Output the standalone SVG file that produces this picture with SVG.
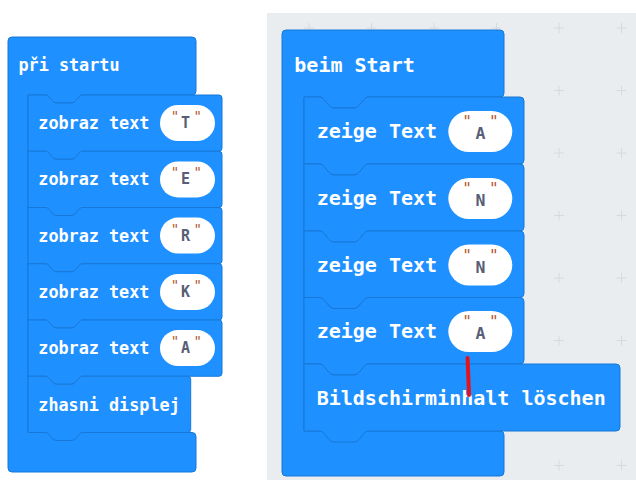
<svg xmlns="http://www.w3.org/2000/svg" width="636" height="480" viewBox="0 0 636 480">
  <style>
    .blk { fill: #1e90ff; stroke: #1778d8; stroke-width: 1; stroke-linejoin: round; }
    .lbl { fill: #ffffff; font-family: "DejaVu Sans Mono", "Liberation Mono", monospace; font-weight: bold; }
    .s { font-size: 16.8px; }
    .l { font-size: 20px; }
    .pill { fill: #ffffff; }
    .val { fill: #575e75; font-family: "DejaVu Sans Mono", "Liberation Mono", monospace; font-weight: bold; text-anchor: middle; }
    .q { fill: #b15a35; font-family: "DejaVu Sans Mono", "Liberation Mono", monospace; text-anchor: middle; }
    .grid { stroke: #d5dade; stroke-width: 1; }
  </style>

  <!-- page and workspace backgrounds -->
  <rect x="0" y="0" width="636" height="480" fill="#ffffff"/>
  <rect x="267" y="13" width="369" height="467" fill="#e9edf0"/>
  <g id="workspace-grid" class="grid">
    <path d="M304,28h10M309,23v10 M366.5,28h10M371.5,23v10 M429,28h10M434,23v10 M491.5,28h10M496.5,23v10 M554,28h10M559,23v10 M616.5,28h10M621.5,23v10"/>
    <path d="M554,90.5h10M559,85.5v10 M616.5,90.5h10M621.5,85.5v10"/>
    <path d="M554,153h10M559,148v10 M616.5,153h10M621.5,148v10"/>
    <path d="M554,215.5h10M559,210.5v10 M616.5,215.5h10M621.5,210.5v10"/>
    <path d="M554,278h10M559,273v10 M616.5,278h10M621.5,273v10"/>
    <path d="M554,340.5h10M559,335.5v10 M616.5,340.5h10M621.5,335.5v10"/>
    <path d="M554,465.5h10M559,460.5v10 M616.5,465.5h10M621.5,460.5v10"/>
  </g>

  <!-- ===== left program (Czech) ===== -->
  <g id="pri-startu">
    <path class="blk" d="M8,41 q0,-4 4,-4 H192 q4,0 4,4 V91 q0,4 -4,4 H82 q-1.5,0 -3,2 l-4,4.5 q-1.5,1.5 -4,1.5 h-14 q-2.5,0 -4,-1.5 l-4,-4.5 q-1.5,-2 -3,-2 H28 V432.5 H192 q4,0 4,4 V468 q0,4 -4,4 H12 q-4,0 -4,-4 Z"/>
    <text class="lbl s" x="18.5" y="71">při startu</text>
  </g>

  <g id="zobraz-T">
    <path class="blk" d="M28,95 H46 q1.5,0 3,2 l4,4.5 q1.5,1.5 4,1.5 h14 q2.5,0 4,-1.5 l4,-4.5 q1.5,-2 3,-2 H219 q3,0 3,3 V148.25 q0,3 -3,3 H82 q-1.5,0 -3,2 l-4,4.5 q-1.5,1.5 -4,1.5 h-14 q-2.5,0 -4,-1.5 l-4,-4.5 q-1.5,-2 -3,-2 H28 Z"/>
    <text class="lbl s" x="38.3" y="129">zobraz text</text>
    <rect class="pill" x="160" y="105" width="55" height="36" rx="18"/>
    <text class="q" x="175" y="121" font-size="14">"</text>
    <text class="val" x="185.5" y="128" font-size="15">T</text>
    <text class="q" x="197.7" y="121" font-size="14">"</text>
  </g>

  <g id="zobraz-E">
    <path class="blk" d="M28,151.25 H46 q1.5,0 3,2 l4,4.5 q1.5,1.5 4,1.5 h14 q2.5,0 4,-1.5 l4,-4.5 q1.5,-2 3,-2 H219 q3,0 3,3 V204.5 q0,3 -3,3 H82 q-1.5,0 -3,2 l-4,4.5 q-1.5,1.5 -4,1.5 h-14 q-2.5,0 -4,-1.5 l-4,-4.5 q-1.5,-2 -3,-2 H28 Z"/>
    <text class="lbl s" x="38.3" y="185.2">zobraz text</text>
    <rect class="pill" x="160" y="161.4" width="55" height="36" rx="18"/>
    <text class="q" x="175" y="177.4" font-size="14">"</text>
    <text class="val" x="185.5" y="184.4" font-size="15">E</text>
    <text class="q" x="197.7" y="177.4" font-size="14">"</text>
  </g>

  <g id="zobraz-R">
    <path class="blk" d="M28,207.5 H46 q1.5,0 3,2 l4,4.5 q1.5,1.5 4,1.5 h14 q2.5,0 4,-1.5 l4,-4.5 q1.5,-2 3,-2 H219 q3,0 3,3 V260.75 q0,3 -3,3 H82 q-1.5,0 -3,2 l-4,4.5 q-1.5,1.5 -4,1.5 h-14 q-2.5,0 -4,-1.5 l-4,-4.5 q-1.5,-2 -3,-2 H28 Z"/>
    <text class="lbl s" x="38.3" y="241.5">zobraz text</text>
    <rect class="pill" x="160" y="217.6" width="55" height="36" rx="18"/>
    <text class="q" x="175" y="233.6" font-size="14">"</text>
    <text class="val" x="185.5" y="240.6" font-size="15">R</text>
    <text class="q" x="197.7" y="233.6" font-size="14">"</text>
  </g>

  <g id="zobraz-K">
    <path class="blk" d="M28,263.75 H46 q1.5,0 3,2 l4,4.5 q1.5,1.5 4,1.5 h14 q2.5,0 4,-1.5 l4,-4.5 q1.5,-2 3,-2 H219 q3,0 3,3 V317 q0,3 -3,3 H82 q-1.5,0 -3,2 l-4,4.5 q-1.5,1.5 -4,1.5 h-14 q-2.5,0 -4,-1.5 l-4,-4.5 q-1.5,-2 -3,-2 H28 Z"/>
    <text class="lbl s" x="38.3" y="297.7">zobraz text</text>
    <rect class="pill" x="160" y="273.9" width="55" height="36" rx="18"/>
    <text class="q" x="175" y="289.9" font-size="14">"</text>
    <text class="val" x="185.5" y="296.9" font-size="15">K</text>
    <text class="q" x="197.7" y="289.9" font-size="14">"</text>
  </g>

  <g id="zobraz-A">
    <path class="blk" d="M28,320 H46 q1.5,0 3,2 l4,4.5 q1.5,1.5 4,1.5 h14 q2.5,0 4,-1.5 l4,-4.5 q1.5,-2 3,-2 H219 q3,0 3,3 V373.25 q0,3 -3,3 H82 q-1.5,0 -3,2 l-4,4.5 q-1.5,1.5 -4,1.5 h-14 q-2.5,0 -4,-1.5 l-4,-4.5 q-1.5,-2 -3,-2 H28 Z"/>
    <text class="lbl s" x="38.3" y="354">zobraz text</text>
    <rect class="pill" x="160" y="330.1" width="55" height="36" rx="18"/>
    <text class="q" x="175" y="346.1" font-size="14">"</text>
    <text class="val" x="185.5" y="353.1" font-size="15">A</text>
    <text class="q" x="197.7" y="346.1" font-size="14">"</text>
  </g>

  <g id="zhasni-displej">
    <path class="blk" d="M28,376.25 H46 q1.5,0 3,2 l4,4.5 q1.5,1.5 4,1.5 h14 q2.5,0 4,-1.5 l4,-4.5 q1.5,-2 3,-2 H187.7 q3,0 3,3 V429.5 q0,3 -3,3 H82 q-1.5,0 -3,2 l-4,4.5 q-1.5,1.5 -4,1.5 h-14 q-2.5,0 -4,-1.5 l-4,-4.5 q-1.5,-2 -3,-2 H28 Z"/>
    <text class="lbl s" x="38.3" y="410.5">zhasni displej</text>
  </g>

  <!-- ===== right program (German) ===== -->
  <g id="beim-start">
    <path class="blk" d="M282,34 q0,-4 4,-4 H500 q4,0 4,4 V93 q0,4 -4,4 H368 q-2,0 -4,2.5 l-5,6 q-2,2.5 -5,2.5 h-20 q-3,0 -5,-2.5 l-5,-6 q-2,-2.5 -4,-2.5 H304 V431 H500 q4,0 4,4 V472 q0,4 -4,4 H286 q-4,0 -4,-4 Z"/>
    <text class="lbl l" x="294.3" y="72">beim Start</text>
  </g>

  <g id="zeige-A1">
    <path class="blk" d="M304,97 H320 q2,0 4,2.5 l5,6 q2,2.5 5,2.5 h20 q3,0 5,-2.5 l5,-6 q2,-2.5 4,-2.5 H520 q4,0 4,4 V160 q0,4 -4,4 H368 q-2,0 -4,2.5 l-5,6 q-2,2.5 -5,2.5 h-20 q-3,0 -5,-2.5 l-5,-6 q-2,-2.5 -4,-2.5 H304 Z"/>
    <text class="lbl l" x="316.7" y="138">zeige Text</text>
    <rect class="pill" x="448.3" y="111" width="64" height="41" rx="20.5"/>
    <text class="q" x="467" y="127" font-size="16">"</text>
    <text class="val" x="480.5" y="139.3" font-size="16.5">A</text>
    <text class="q" x="493.7" y="127" font-size="16">"</text>
  </g>

  <g id="zeige-N1">
    <path class="blk" d="M304,164 H320 q2,0 4,2.5 l5,6 q2,2.5 5,2.5 h20 q3,0 5,-2.5 l5,-6 q2,-2.5 4,-2.5 H520 q4,0 4,4 V227 q0,4 -4,4 H368 q-2,0 -4,2.5 l-5,6 q-2,2.5 -5,2.5 h-20 q-3,0 -5,-2.5 l-5,-6 q-2,-2.5 -4,-2.5 H304 Z"/>
    <text class="lbl l" x="316.7" y="205">zeige Text</text>
    <rect class="pill" x="448.3" y="178" width="64" height="41" rx="20.5"/>
    <text class="q" x="467" y="194" font-size="16">"</text>
    <text class="val" x="480.5" y="206.3" font-size="16.5">N</text>
    <text class="q" x="493.7" y="194" font-size="16">"</text>
  </g>

  <g id="zeige-N2">
    <path class="blk" d="M304,231 H320 q2,0 4,2.5 l5,6 q2,2.5 5,2.5 h20 q3,0 5,-2.5 l5,-6 q2,-2.5 4,-2.5 H520 q4,0 4,4 V293.5 q0,4 -4,4 H368 q-2,0 -4,2.5 l-5,6 q-2,2.5 -5,2.5 h-20 q-3,0 -5,-2.5 l-5,-6 q-2,-2.5 -4,-2.5 H304 Z"/>
    <text class="lbl l" x="316.7" y="271.5">zeige Text</text>
    <rect class="pill" x="448.3" y="244.5" width="64" height="41" rx="20.5"/>
    <text class="q" x="467" y="260.5" font-size="16">"</text>
    <text class="val" x="480.5" y="272.8" font-size="16.5">N</text>
    <text class="q" x="493.7" y="260.5" font-size="16">"</text>
  </g>

  <g id="zeige-A2">
    <path class="blk" d="M304,297.5 H320 q2,0 4,2.5 l5,6 q2,2.5 5,2.5 h20 q3,0 5,-2.5 l5,-6 q2,-2.5 4,-2.5 H520 q4,0 4,4 V360 q0,4 -4,4 H368 q-2,0 -4,2.5 l-5,6 q-2,2.5 -5,2.5 h-20 q-3,0 -5,-2.5 l-5,-6 q-2,-2.5 -4,-2.5 H304 Z"/>
    <text class="lbl l" x="316.7" y="338.3">zeige Text</text>
    <rect class="pill" x="448.3" y="311" width="64" height="41" rx="20.5"/>
    <text class="q" x="467" y="327" font-size="16">"</text>
    <text class="val" x="480.5" y="339.3" font-size="16.5">A</text>
    <text class="q" x="493.7" y="327" font-size="16">"</text>
  </g>

  <g id="bildschirm-loeschen">
    <path class="blk" d="M304,364 H320 q2,0 4,2.5 l5,6 q2,2.5 5,2.5 h20 q3,0 5,-2.5 l5,-6 q2,-2.5 4,-2.5 H616 q4,0 4,4 V427 q0,4 -4,4 H368 q-2,0 -4,2.5 l-5,6 q-2,2.5 -5,2.5 h-20 q-3,0 -5,-2.5 l-5,-6 q-2,-2.5 -4,-2.5 H304 Z"/>
    <text class="lbl l" x="316.7" y="405">Bildschirminhalt löschen</text>
  </g>

  <!-- red marker stroke -->
  <g id="marker">
    <path d="M467.6,358 L469,395" stroke="#e3131d" stroke-width="4" stroke-linecap="round" fill="none"/>
  </g>
</svg>
